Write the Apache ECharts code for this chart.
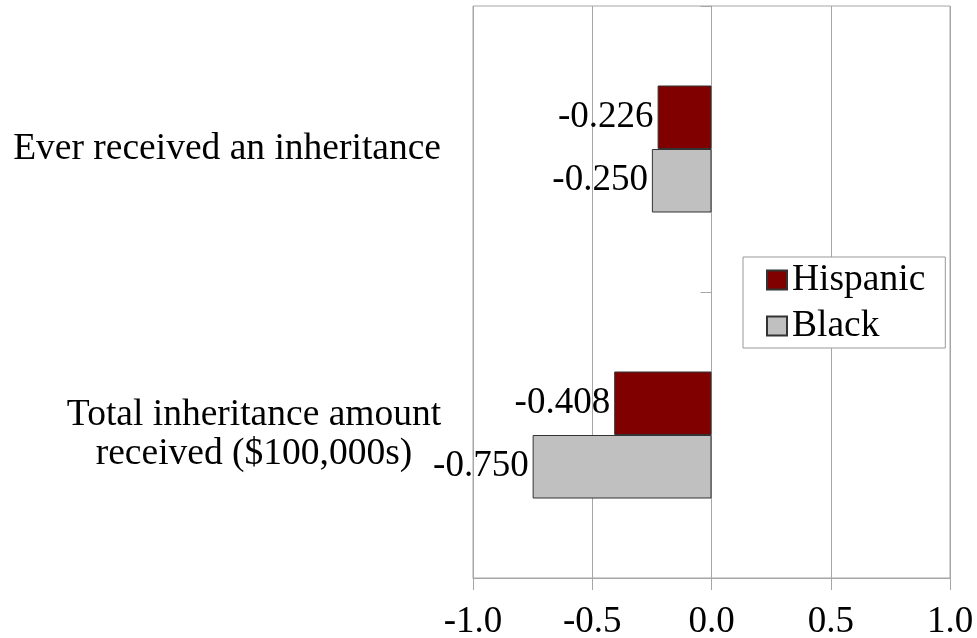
<!DOCTYPE html>
<html>
<head>
<meta charset="utf-8">
<script src="https://cdn.jsdelivr.net/npm/echarts@6/dist/echarts.min.js"></script>
<style>
  html, body { margin: 0; padding: 0; background: #fff; }
  #chart { width: 977px; height: 638px; }
</style>
</head>
<body>
<div id="chart"></div>
<script>
// Measures shown on the category axis (top to bottom)
const categories = ['Ever received an inheritance', 'Total inheritance amount\nreceived ($100,000s)'];
// Coefficients for each group
const hispanicValues = [-0.226, -0.408];
const blackValues = [-0.250, -0.750];
// Value axis ticks
const xTicks = [-1.0, -0.5, 0.0, 0.5, 1.0];

const FONT = '"Liberation Serif", "Times New Roman", serif';
const GRID = '#a6a6a6';
const FS = 37;

const chart = echarts.init(document.getElementById('chart'), null, { renderer: 'canvas' });

function catLabel(value) {
  if (value.indexOf('\n') >= 0) {
    // two-line label: lines centred on each other, block right-aligned
    return value.split('\n').map(function (l) { return '{c|' + l + '}'; }).join('\n');
  }
  return value;
}

function valueLabel(p) { return p.value.toFixed(3); }

const option = {
  backgroundColor: '#fff',
  animation: false,
  textStyle: { fontFamily: FONT },
  grid: {
    left: 473, right: 27, top: 6, bottom: 60,
    show: true, borderColor: GRID, borderWidth: 1,
    outerBoundsMode: 'none'
  },
  legend: {
    orient: 'vertical',
    left: 743, top: 257,
    padding: [3, 20, 2, 23],
    backgroundColor: '#fff',
    borderColor: '#999',
    borderWidth: 1,
    borderRadius: 0,
    itemWidth: 20, itemHeight: 19,
    itemGap: 6,
    icon: 'rect',
    textStyle: { fontFamily: FONT, fontSize: 37.5, color: '#000', lineHeight: 40 },
    data: ['Hispanic', 'Black']
  },
  xAxis: {
    type: 'value',
    min: xTicks[0], max: xTicks[xTicks.length - 1], interval: 0.5,
    axisLine: { show: true, onZero: false, lineStyle: { color: GRID, width: 1 } },
    axisTick: { show: true, length: 12, lineStyle: { color: GRID } },
    splitLine: { show: true, lineStyle: { color: GRID, width: 1 } },
    axisLabel: {
      margin: 26,
      fontFamily: FONT, fontSize: FS, color: '#000',
      formatter: function (v) { return v.toFixed(1); }
    }
  },
  yAxis: [
    {
      type: 'category',
      data: categories,
      inverse: true,
      position: 'left',
      axisLine: { show: false, onZero: false },
      axisTick: { show: false },
      splitLine: { show: false },
      axisLabel: {
        margin: 32,
        align: 'right',
        fontFamily: FONT, fontSize: 37.5, color: '#000', lineHeight: 39,
        formatter: catLabel,
        rich: {
          c: { fontFamily: FONT, fontSize: 37.5, color: '#000', lineHeight: 39, width: 374, align: 'center' }
        }
      }
    },
    {
      type: 'category',
      data: categories,
      inverse: true,
      position: 'left',
      axisLine: { show: true, onZero: true, lineStyle: { color: GRID, width: 1 } },
      axisTick: { show: true, length: 11, lineStyle: { color: GRID } },
      axisLabel: { show: false },
      splitLine: { show: false }
    }
  ],
  series: [
    {
      name: 'Hispanic',
      type: 'bar',
      yAxisIndex: 0,
      data: hispanicValues,
      barWidth: 63.5,
      barGap: '0%',
      itemStyle: { color: '#800000', borderColor: '#333', borderWidth: 1 },
      label: {
        show: true, position: 'left', distance: 4,
        fontFamily: FONT, fontSize: FS, color: '#000',
        formatter: valueLabel
      }
    },
    {
      name: 'Black',
      type: 'bar',
      yAxisIndex: 0,
      data: blackValues,
      barWidth: 63.5,
      barGap: '0%',
      itemStyle: { color: '#c0c0c0', borderColor: '#333', borderWidth: 1 },
      label: {
        show: true, position: 'left', distance: 4,
        fontFamily: FONT, fontSize: FS, color: '#000',
        formatter: valueLabel
      }
    }
  ]
};

chart.setOption(option);
</script>
</body>
</html>
